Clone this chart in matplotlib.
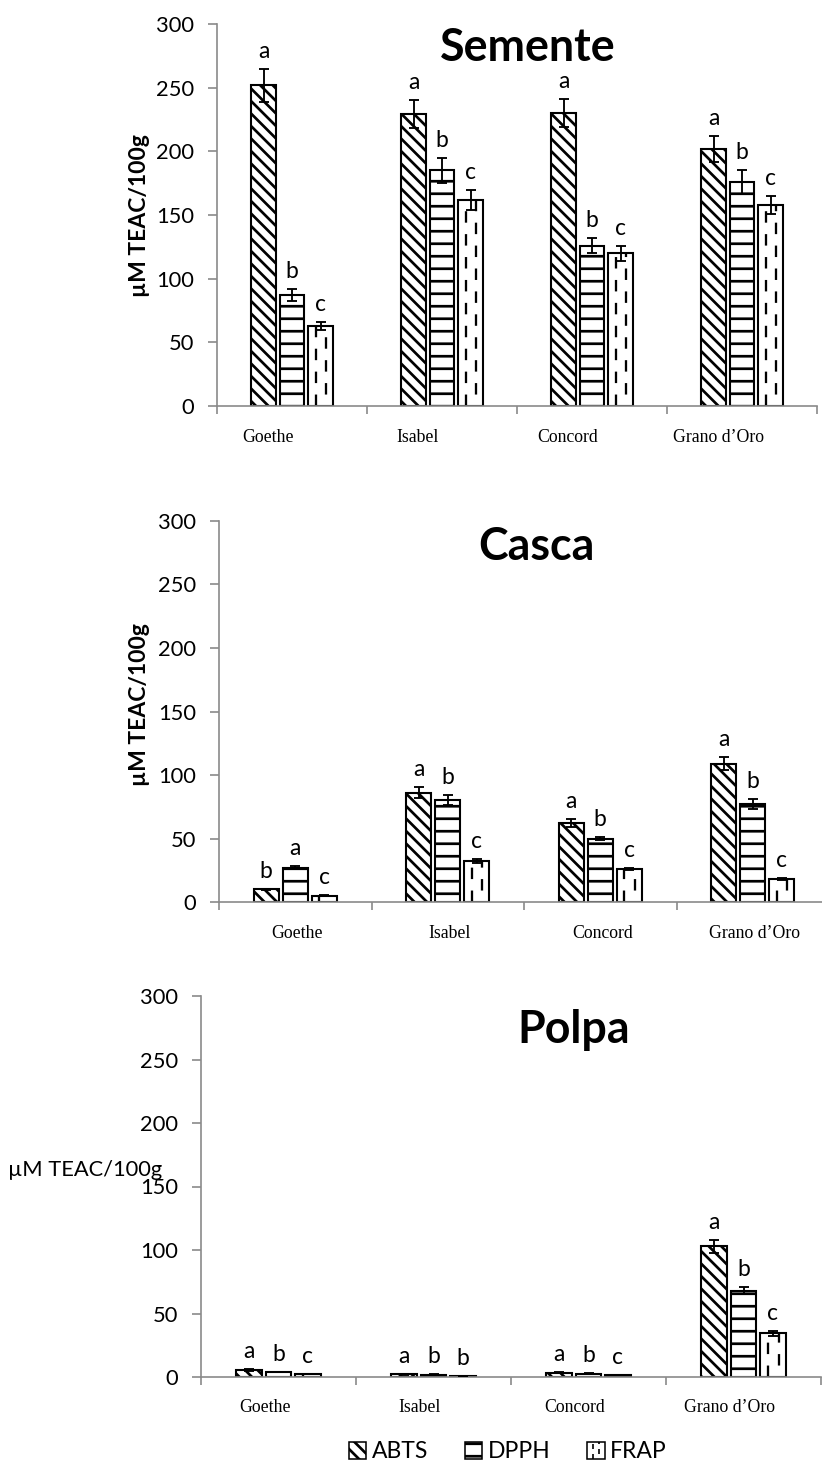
import matplotlib
matplotlib.use("Agg")
import matplotlib.pyplot as plt
import numpy as np
from matplotlib.patches import Patch, Rectangle
from matplotlib.lines import Line2D
from matplotlib.legend_handler import HandlerPatch

# ---------------- data ----------------
cultivars = ["Goethe", "Isabel", "Concord", "Grano d\u2019Oro"]
methods = ["ABTS", "DPPH", "FRAP"]

semente_abts = [252, 229, 230, 202]
semente_dpph = [87, 185, 126, 176]
semente_frap = [63, 162, 120, 158]
semente_abts_err = [13, 11, 11, 10]
semente_dpph_err = [4.5, 9.5, 6, 9.5]
semente_frap_err = [3, 8, 6, 7]
semente_letters = [["a", "b", "c"], ["a", "b", "c"], ["a", "b", "c"], ["a", "b", "c"]]

casca_abts = [10, 86, 62, 109]
casca_dpph = [27, 80, 50, 77]
casca_frap = [5, 32, 26, 18]
casca_abts_err = [0.5, 4.5, 3, 5]
casca_dpph_err = [1, 4, 1.5, 4]
casca_frap_err = [0.5, 1.5, 1, 1]
casca_letters = [["b", "a", "c"], ["a", "b", "c"], ["a", "b", "c"], ["a", "b", "c"]]

polpa_abts = [5.5, 2, 3.5, 103]
polpa_dpph = [4, 1.8, 2.6, 68]
polpa_frap = [2.5, 1, 1.5, 34.5]
polpa_abts_err = [0.5, 0.2, 0.3, 5]
polpa_dpph_err = [0.3, 0.2, 0.2, 3]
polpa_frap_err = [0.2, 0.1, 0.1, 2]
polpa_letters = [["a", "b", "c"], ["a", "b", "b"], ["a", "b", "c"], ["a", "b", "c"]]

yticks = [0, 50, 100, 150, 200, 250, 300]
ylabel = "\u00b5M TEAC/100g"

# ---------------- style ----------------
W, H = 822, 1467
DPI = 75
SANS = ["Lato", "DejaVu Sans"]
SERIF = ["Liberation Serif", "DejaVu Serif"]
plt.rcParams["font.family"] = SANS
plt.rcParams["hatch.linewidth"] = 2.6
GRAY = "#8a8a8a"


def fx(px):
    return px / W


def fy(py):
    return 1 - py / H


fig = plt.figure(figsize=(W / DPI, H / DPI), dpi=DPI)

hatches = ["\\\\", "-", None]


def draw_panel(rect_px, vals, errs, letters, title, title_px, label_dx):
    l, t, r, b = rect_px
    ax = fig.add_axes([fx(l), fy(b), fx(r) - fx(l), fy(t) - fy(b)])
    ax.set_xlim(0, 4)
    ax.set_ylim(0, 300)
    x = np.arange(len(cultivars)) + 0.5
    offs = [-0.19, 0.0, 0.19]
    w = 0.165
    for k in range(3):
        bars = ax.bar(x + offs[k], vals[k], w, color="white", edgecolor="black",
                      linewidth=2.0, hatch=hatches[k], zorder=2)
        if k == 2:
            for bar in bars:
                bx, bw, bh = bar.get_x(), bar.get_width(), bar.get_height()
                for frac, ph in ((0.3, 0), (0.72, 5)):
                    ax.plot([bx + frac * bw, bx + frac * bw], [0, bh], color="black",
                            lw=2.2, linestyle=(ph, (5, 5)), dash_capstyle="butt",
                            zorder=2.5)
        ax.errorbar(x + offs[k], vals[k], yerr=errs[k], fmt="none", ecolor="black",
                    elinewidth=1.8, capsize=5, capthick=1.8, zorder=3)
        for i, bar in enumerate(bars):
            ax.annotate(letters[i][k],
                        xy=(bar.get_x() + bar.get_width() / 2, vals[k][i] + errs[k][i]),
                        xytext=(0, 11), textcoords="offset pixels", ha="center",
                        va="baseline", fontsize=22, zorder=4)
    for s in ("top", "right"):
        ax.spines[s].set_visible(False)
    for s in ("left", "bottom"):
        ax.spines[s].set_color(GRAY)
        ax.spines[s].set_linewidth(1.6)
    ax.set_yticks(yticks)
    ax.set_xticks(np.arange(len(cultivars) + 1))
    ax.set_xticklabels([])
    ax.tick_params(axis="y", direction="out", length=9, width=1.6, color=GRAY,
                   labelsize=21, pad=13)
    ax.tick_params(axis="x", direction="out", length=8, width=1.6, color=GRAY)
    for i, c in enumerate(cultivars):
        ax.annotate(c, xy=(x[i], 0), xycoords=("data", "axes fraction"),
                    xytext=(label_dx, -31), textcoords="offset pixels",
                    ha="center", va="center", fontsize=17, family=SERIF)
    fig.text(fx(title_px[0]), fy(title_px[1]), title, ha="center", va="center",
             fontsize=43, fontweight="bold")
    return ax


draw_panel((217, 24, 817, 406),
           [semente_abts, semente_dpph, semente_frap],
           [semente_abts_err, semente_dpph_err, semente_frap_err],
           semente_letters, "Semente", (528, 48), -24)
draw_panel((219, 521, 829, 902),
           [casca_abts, casca_dpph, casca_frap],
           [casca_abts_err, casca_dpph_err, casca_frap_err],
           casca_letters, "Casca", (536, 547), 2)
draw_panel((201, 996, 821, 1377),
           [polpa_abts, polpa_dpph, polpa_frap],
           [polpa_abts_err, polpa_dpph_err, polpa_frap_err],
           polpa_letters, "Polpa", (574, 1030), -14)

# y labels
fig.text(fx(140), fy(216), ylabel, rotation=90, ha="center", va="center",
         fontsize=22, fontweight="bold")
fig.text(fx(140), fy(705), ylabel, rotation=90, ha="center", va="center",
         fontsize=22, fontweight="bold")
fig.text(fx(8), fy(1170), ylabel, ha="left", va="center", fontsize=21)


# legend
class DashHandler(HandlerPatch):
    def create_artists(self, legend, orig_handle, xdescent, ydescent, width,
                       height, fontsize, trans):
        x0, y0 = -xdescent, -ydescent
        rect = Rectangle((x0, y0), width, height, facecolor="white",
                         edgecolor="black", lw=1.5, transform=trans)
        arts = [rect]
        for frac, ph in ((0.33, 0), (0.67, 3)):
            ln = Line2D([x0 + frac * width] * 2, [y0, y0 + height], color="black",
                        lw=1.6, linestyle=(ph, (3, 3)), transform=trans)
            arts.append(ln)
        return arts


handles = [Patch(facecolor="white", edgecolor="black", hatch="\\\\", lw=1.5),
           Patch(facecolor="white", edgecolor="black", hatch="-", lw=1.5),
           Patch(facecolor="white", edgecolor="black", lw=1.5)]
fig.legend(handles, methods, loc="center", bbox_to_anchor=(fx(508), fy(1452)),
           ncol=3, frameon=False, fontsize=22, handlelength=0.75, handleheight=0.75,
           handletextpad=0.25, columnspacing=1.6,
           handler_map={handles[2]: DashHandler()})

fig.savefig("out.png", dpi=DPI)
